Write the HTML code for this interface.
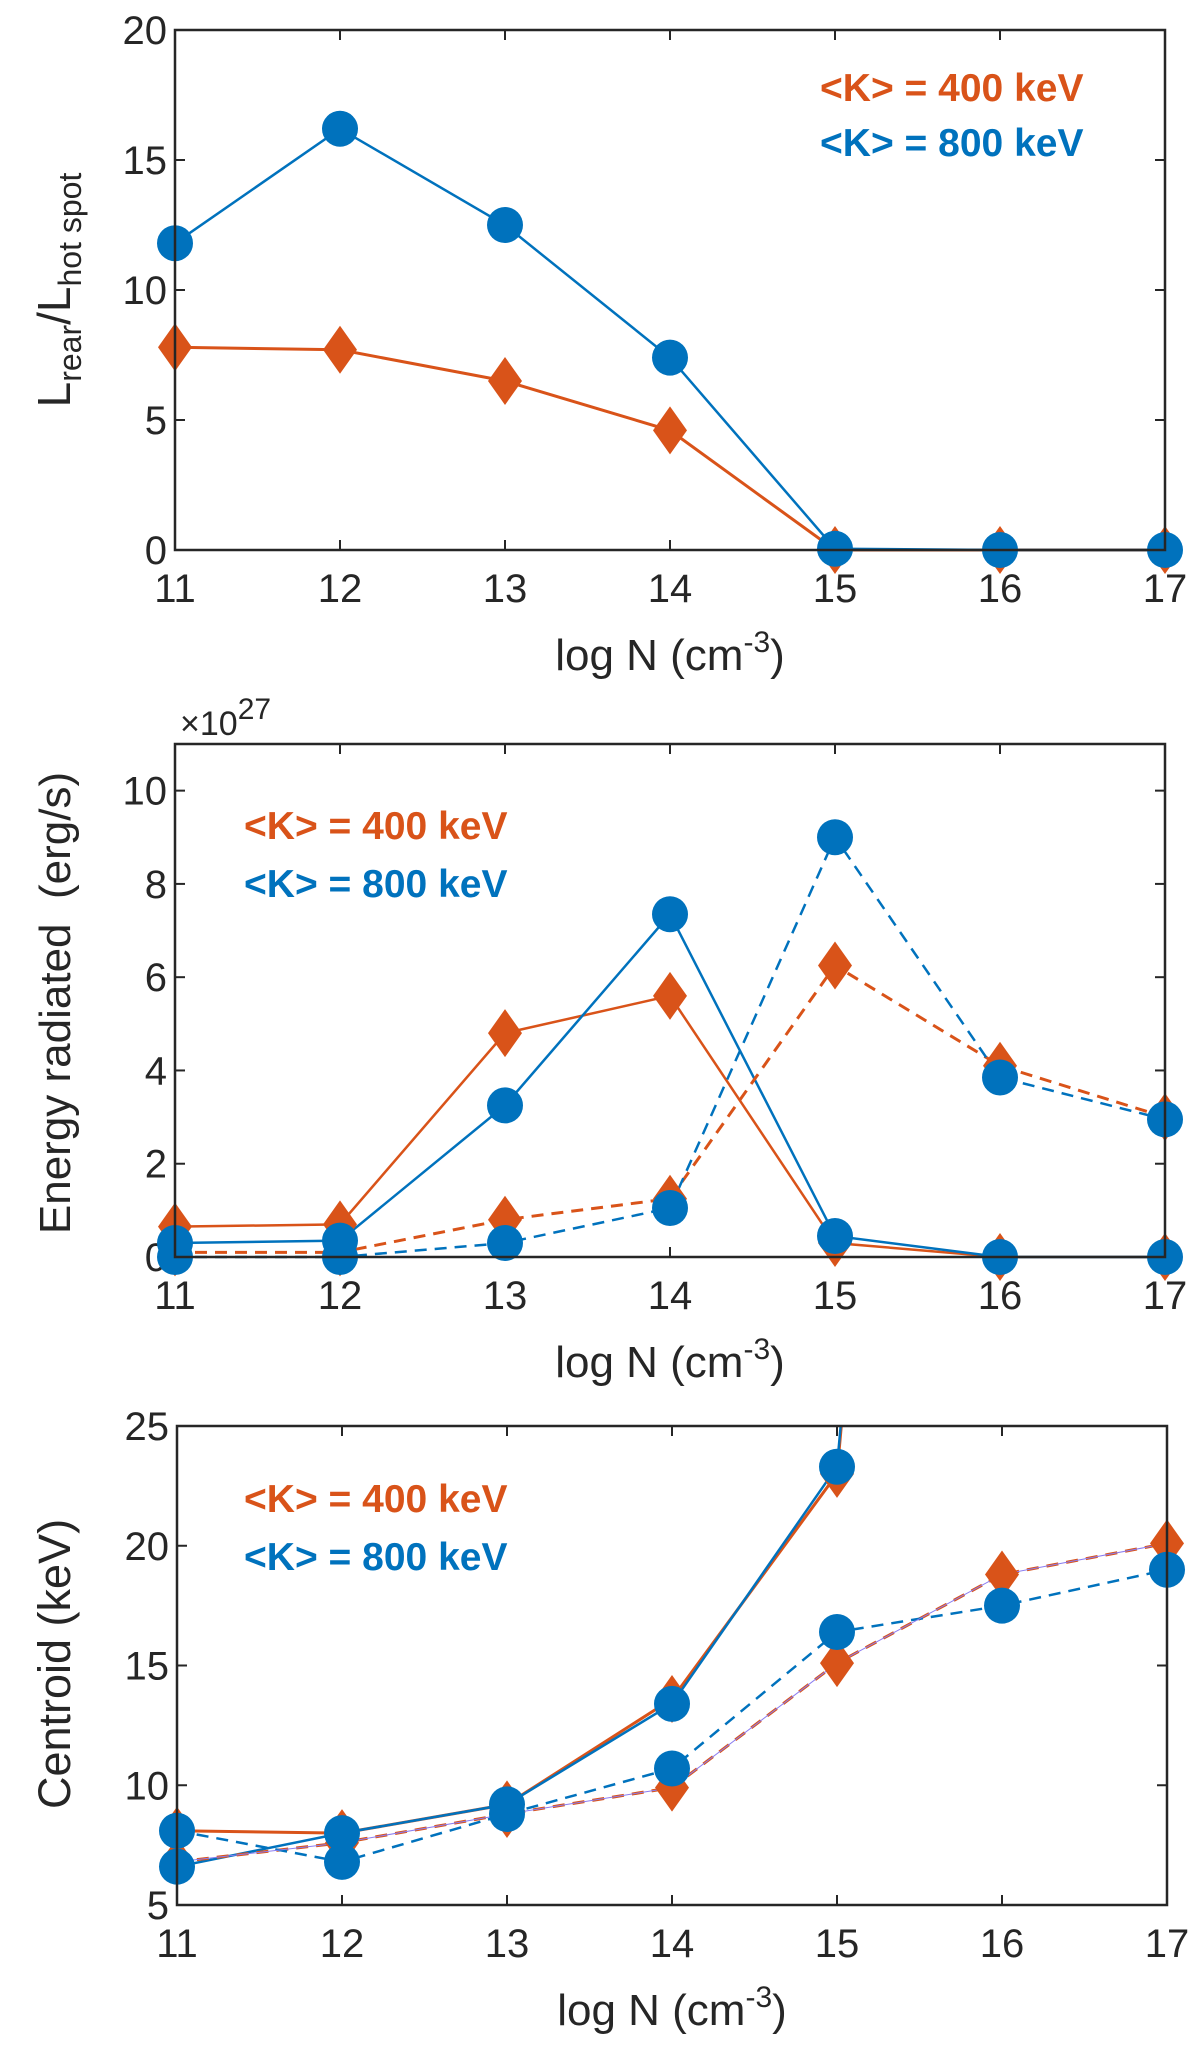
<!DOCTYPE html>
<html><head><meta charset="utf-8"><style>
body{margin:0;background:#fff;}
svg text{font-family:"Liberation Sans",Arial,sans-serif;}
</style></head><body>
<svg id="fig" width="1200" height="2046" viewBox="0 0 1200 2046" xmlns="http://www.w3.org/2000/svg"></svg>
<script>
const xCats = [11,12,13,14,15,16,17];
// Panel 1: L_rear / L_hot spot
const p1Orange = [7.8,7.7,6.5,4.6,0,0,0];
const p1Blue = [11.8,16.2,12.5,7.4,0.05,0,0];
const p1Ticks = [0,5,10,15,20];
// Panel 2: Energy radiated (x1e27)
const p2OrangeSolid = [0.65,0.7,4.8,5.6,0.3,0,0];
const p2BlueSolid = [0.3,0.35,3.25,7.35,0.45,0,0];
const p2OrangeDash = [0.1,0.1,0.8,1.25,6.25,4.1,3.0];
const p2BlueDash = [0,0,0.3,1.05,9.0,3.85,2.95];
const p2Ticks = [0,2,4,6,8,10];
// Panel 3: Centroid
const p3OrangeSolid = [8.1,8.0,9.2,13.6,23.0,100,150];
const p3BlueSolid = [6.6,8.0,9.2,13.4,23.3,100,150];
const p3OrangeDash = [6.8,7.6,8.8,9.9,15.1,18.8,20.1];
const p3BlueDash = [8.1,6.8,8.8,10.7,16.4,17.5,19.0];
const p3Ticks = [5,10,15,20,25];

const OR='#D95319', BL='#0072BD';
const svg=document.getElementById('fig');
const NS='http://www.w3.org/2000/svg';
function mk(tag,attrs,parent){const e=document.createElementNS(NS,tag);for(const k in attrs)e.setAttribute(k,attrs[k]);(parent||svg).appendChild(e);return e;}

function panel(id,box,ymin,ymax,yTicks,series,legend,ylabelParts,ylabelY,ylSize,extra){
  const g=mk('g',{});
  
  
  const X=v=>box.l+(v-11)/(17-11)*(box.r-box.l);
  const Y=v=>box.b-(v-ymin)/(ymax-ymin)*(box.b-box.t);
  const cp=mk('clipPath',{id:id+'-clip'},g);
  mk('rect',{x:box.l-25,y:box.t,width:box.r-box.l+50,height:box.b-box.t+40},cp);
  xCats.forEach(v=>{
    const x=X(v);
    mk('line',{x1:x,y1:box.b,x2:x,y2:box.b-10,stroke:'#262626','stroke-width':2},g);
    mk('line',{x1:x,y1:box.t,x2:x,y2:box.t+10,stroke:'#262626','stroke-width':2},g);
    const t=mk('text',{x:x,y:box.b+52,'font-size':40,'text-anchor':'middle',fill:'#262626'},g);
    t.textContent=v;
    
    
  });
  yTicks.forEach(v=>{
    const y=Y(v);
    mk('line',{x1:box.l,y1:y,x2:box.l+10,y2:y,stroke:'#262626','stroke-width':2},g);
    mk('line',{x1:box.r,y1:y,x2:box.r-10,y2:y,stroke:'#262626','stroke-width':2},g);
    const t=mk('text',{x:box.l-8,y:y+14,'font-size':40,'text-anchor':'end',fill:'#262626'},g);
    t.textContent=v;
    
    
  });
  const pg=mk('g',{'clip-path':'url(#'+id+'-clip)'},g);
  series.forEach(s=>{
    const pts=s.data.map((v,i)=>X(xCats[i])+','+Y(v)).join(' ');
    const pl=mk('polyline',{points:pts,fill:'none',stroke:s.color,'stroke-width':s.w||2.5,'stroke-dasharray':s.dash?'12,8':'none'},pg);
    
    
  });
  if(extra)extra(pg,X,Y);
  ['d','c'].forEach(kind=>{
    series.filter(s=>s.marker===kind).forEach(s=>{
      s.data.forEach((v,i)=>{
        const x=X(xCats[i]),y=Y(v);
        if(y<box.t-5)return;
        let m;
        if(kind==='d') m=mk('polygon',{points:`${x},${y-24} ${x+17},${y} ${x},${y+24} ${x-17},${y}`,fill:OR},pg);
        else m=mk('ellipse',{cx:x,cy:y,rx:18,ry:18,fill:BL},pg);
        
        
      });
    });
  });
  const fr=mk('rect',{x:box.l,y:box.t,width:box.r-box.l,height:box.b-box.t,fill:'none',stroke:'#262626','stroke-width':2.5},g);
  
  
  const xl=mk('text',{x:(box.l+box.r)/2,y:box.b+120,'font-size':44,'text-anchor':'middle',fill:'#262626'},g);
  xl.innerHTML='log N (cm<tspan dy="-18" font-size="30">-3</tspan><tspan dy="18">)</tspan>';
  
  
  const yl=mk('text',{x:0,y:0,'font-size':ylSize,'text-anchor':'middle',fill:'#262626',transform:`translate(70,${ylabelY}) rotate(-90)`},g);
  yl.setAttribute('xml:space','preserve');
  yl.innerHTML=ylabelParts;
  
  
  const l1=mk('text',{x:legend.x,y:legend.y1+14,'font-size':39,'font-weight':'bold',fill:OR},g);
  l1.textContent='<K> = 400 keV';
  
  
  const l2=mk('text',{x:legend.x,y:legend.y2+14,'font-size':39,'font-weight':'bold',fill:BL},g);
  l2.textContent='<K> = 800 keV';
  
  
}

panel('panel-luminosity-ratio',{l:175,r:1165,t:30,b:550},0,20,p1Ticks,
  [{name:'orange-400kev',data:p1Orange,color:OR,marker:'d',w:3},
   {name:'blue-800kev',data:p1Blue,color:BL,marker:'c'}],
  {x:820,y1:87,y2:142},
  'L<tspan dy="11" font-size="32">rear</tspan><tspan dy="-11">/L</tspan><tspan dy="11" font-size="32">hot spot</tspan>',290,46);

panel('panel-energy-radiated',{l:175,r:1165,t:744,b:1257},0,11,p2Ticks,
  [{name:'orange-400kev-solid',data:p2OrangeSolid,color:OR,marker:'d'},
   {name:'blue-800kev-solid',data:p2BlueSolid,color:BL,marker:'c'},
   {name:'orange-400kev-dashed',data:p2OrangeDash,color:OR,marker:'d',dash:true,w:3},
   {name:'blue-800kev-dashed',data:p2BlueDash,color:BL,marker:'c',dash:true}],
  {x:244,y1:825,y2:883},
  'Energy radiated\u00a0\u00a0(erg/s)',1003,44);
const ex=mk('text',{x:180,y:735,'font-size':34,fill:'#262626'});
ex.innerHTML='×10<tspan dy="-16" font-size="30">27</tspan>';



panel('panel-centroid',{l:177,r:1167,t:1426,b:1905},5,25,p3Ticks,
  [{name:'orange-400kev-solid',data:p3OrangeSolid,color:OR,marker:'d',w:3},
   {name:'blue-800kev-solid',data:p3BlueSolid,color:BL,marker:'c'},
   {name:'orange-400kev-dashed',data:p3OrangeDash,color:OR,marker:'d',dash:true,w:3},
   {name:'blue-800kev-dashed',data:p3BlueDash,color:BL,marker:'c',dash:true}],
  {x:244,y1:1498,y2:1556},
  'Centroid (keV)',1664,45,
  (pg,X,Y)=>{const pts=p3OrangeDash.map((v,i)=>X(xCats[i])+','+Y(v)).join(' ');
    const l=mk('polyline',{points:pts,fill:'none',stroke:'#8a7cf0','stroke-width':1},pg);
    
    });
</script>
</body></html>
